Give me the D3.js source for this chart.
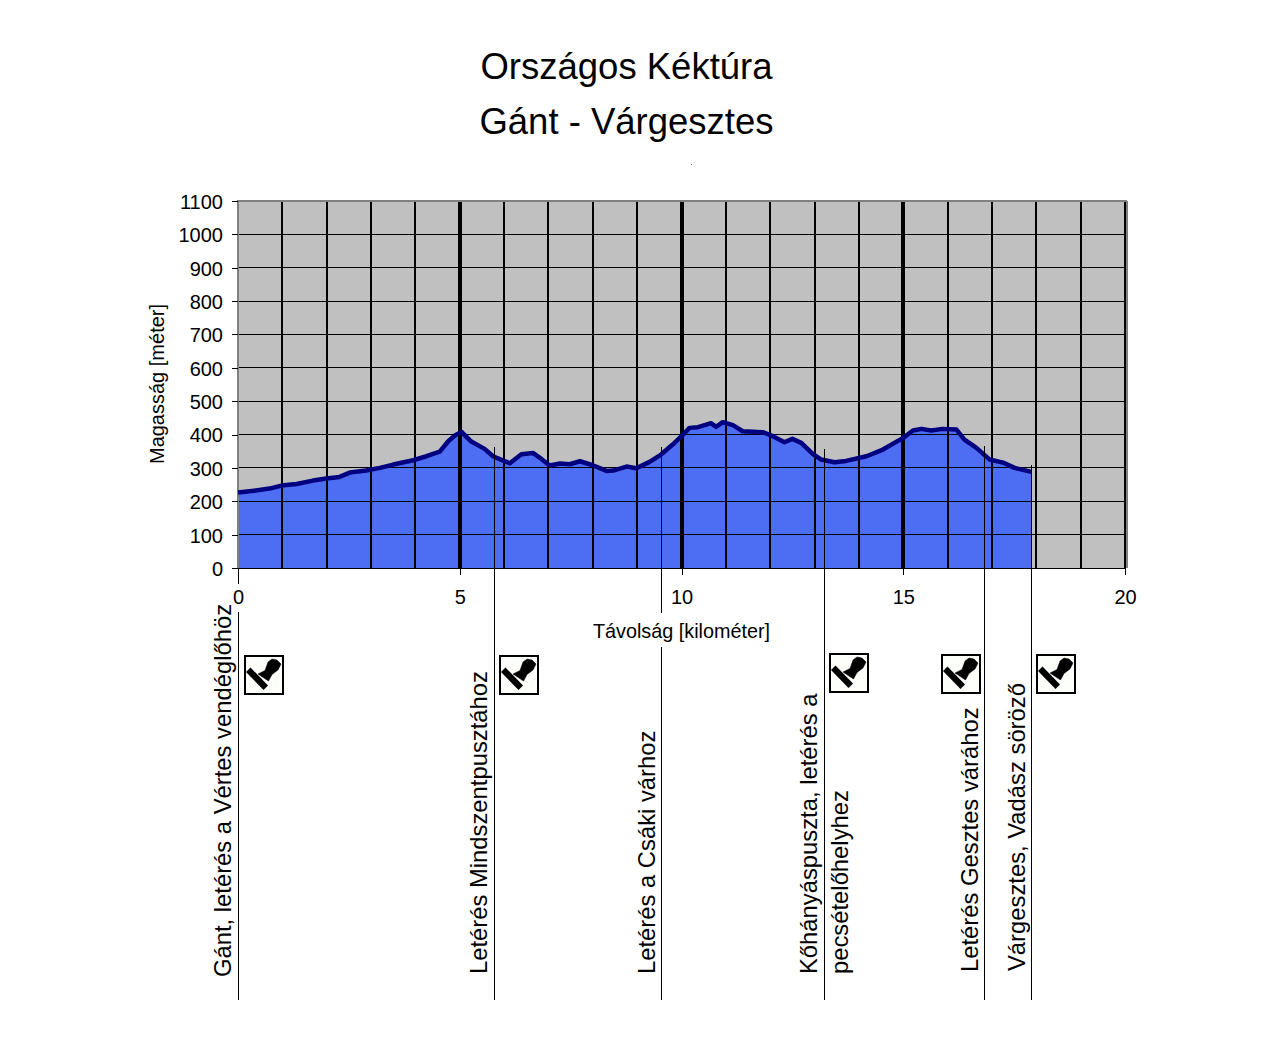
<!DOCTYPE html>
<html>
<head>
<meta charset="utf-8">
<script src="https://cdnjs.cloudflare.com/ajax/libs/d3/7.8.5/d3.min.js"></script>
<style>
  html, body { margin: 0; padding: 0; background: #fff; }
  svg { display: block; }
  text { font-family: "Liberation Sans", Arial, sans-serif; fill: #000; }
</style>
</head>
<body>
<div id="chart"></div>
<script>
const titleLines = ['Országos Kéktúra', 'Gánt - Várgesztes']
const xLabel = 'Távolság [kilométer]'
const yLabel = 'Magasság [méter]'

const xTicks = [0, 5, 10, 15, 20]
const yTicks = [0, 100, 200, 300, 400, 500, 600, 700, 800, 900, 1000, 1100]
const xGrid = d3.range(1, 21)

const distance = [0, 0.26, 0.71, 0.98, 1.32, 1.69, 1.99, 2.29, 2.52, 2.89, 3.2, 3.5, 3.95, 4.25, 4.55, 4.74, 4.89, 5.04,
  5.26, 5.56, 5.75, 5.98, 6.13, 6.39, 6.65, 6.84, 7.03, 7.26, 7.48, 7.71, 8.0, 8.31, 8.46, 8.76, 8.98, 9.28,
  9.54, 9.8, 10, 10.18, 10.37, 10.67, 10.78, 10.93, 11.16, 11.38, 11.83, 12.06, 12.32, 12.5, 12.7, 12.96, 13.15,
  13.45, 13.71, 14.17, 14.54, 15, 15.22, 15.41, 15.63, 15.89, 16.2, 16.38, 16.65, 16.95, 17.25, 17.51, 17.89]
const elevation = [226, 230, 238, 247, 252, 262, 268, 273, 286, 292, 300, 310, 323, 335, 349, 380, 397, 408,
  379, 357, 335, 322, 314, 341, 345, 327, 307, 313, 311, 320, 308, 291, 292, 304, 299, 318,
  340, 370, 395, 420, 422, 434, 423, 437, 428, 410, 407, 395, 377, 387, 375, 342, 325,
  317, 321, 335, 355, 390, 412, 417, 412, 417, 415, 385, 360, 325, 316, 300, 288]

const stationKm = [0, 5.78, 9.54, 13.22, 16.83, 17.89]
const stationTop = [0, 363, 363, 357, 366, 309]
const stationNames = [
  ['Gánt, letérés a Vértes vendéglőhöz'],
  ['Letérés Mindszentpusztához'],
  ['Letérés a Csáki várhoz'],
  ['Kőhányáspuszta, letérés a', 'pecsételőhelyhez'],
  ['Letérés Gesztes várához'],
  ['Várgesztes, Vadász söröző'],
]
const stationHasStamp = [true, true, false, true, true, true]

// layout
const width = 1280, height = 1050
const plot = { left: 238, right: 1125, top: 201, bottom: 568 }
const lineBottom = 1000
const labelBaseDx = [-7, -7, -6, -7, -6, -6]
const labelStart = [977, 974, 974, 974, 972, 971]
const stampDx = [6, 5, null, 5, -43, 5]
const stampY = [655, 655, null, 653, 654, 654]
const labelSize = 23.8

const svg = d3.select('#chart').append('svg').attr('width', width).attr('height', height)

const x = d3.scaleLinear().domain([0, 20]).range([plot.left, plot.right])
const y = d3.scaleLinear().domain([0, 1100]).range([plot.bottom, plot.top])

const profile = distance.map((d, i) => ({ km: d, m: elevation[i] }))

svg.selectAll('text.title').data(titleLines).join('text')
  .attr('class', 'title')
  .attr('x', 626.5)
  .attr('y', (d, i) => 78.5 + i * 55)
  .attr('text-anchor', 'middle')
  .attr('font-size', 36.5)
  .text(d => d)

svg.append('rect').attr('x', 691).attr('y', 164).attr('width', 1).attr('height', 1).attr('fill', '#4d6df3')

// plot background
svg.append('rect')
  .attr('x', plot.left).attr('y', plot.top)
  .attr('width', plot.right - plot.left).attr('height', plot.bottom - plot.top)
  .attr('fill', '#c0c0c0')

const area = d3.area().x(d => x(d.km)).y0(y(0)).y1(d => y(d.m))
svg.append('path').datum(profile).attr('d', area).attr('fill', '#4d6df3')

// gridlines sit over the fill
svg.append('g').attr('shape-rendering', 'crispEdges')
  .selectAll('line').data(yTicks.slice(1, -1)).join('line')
  .attr('x1', plot.left).attr('x2', plot.right)
  .attr('y1', d => y(d)).attr('y2', d => y(d))
  .attr('stroke', '#000').attr('stroke-width', 1)

svg.append('g').attr('shape-rendering', 'crispEdges')
  .selectAll('line').data(xGrid).join('line')
  .attr('x1', d => x(d)).attr('x2', d => x(d))
  .attr('y1', plot.top).attr('y2', plot.bottom)
  .attr('stroke', '#000')
  .attr('stroke-width', d => d % 5 === 0 && d < 20 ? 4 : 2)

// plot frame
svg.append('path')
  .attr('d', `M${plot.left},${plot.bottom}V${plot.top}H${plot.right + 2}M${plot.right + 2},${plot.top}V${plot.bottom}`)
  .attr('fill', 'none').attr('stroke', '#808080').attr('stroke-width', 2)
  .attr('shape-rendering', 'crispEdges')

const line = d3.line().x(d => x(d.km)).y(d => y(d.m))
svg.append('path').datum(profile).attr('d', line)
  .attr('fill', 'none').attr('stroke', '#000080').attr('stroke-width', 4.5)
  .attr('stroke-linejoin', 'round')

// axes
const xAxis = svg.append('g').attr('transform', `translate(0,${plot.bottom})`)
  .call(d3.axisBottom(x).tickValues(xTicks).tickFormat(String).tickSize(7).tickPadding(15).tickSizeOuter(0))
const yAxis = svg.append('g').attr('transform', `translate(${plot.left},0)`)
  .call(d3.axisLeft(y).tickValues(yTicks).tickFormat(String).tickSize(6).tickPadding(9).tickSizeOuter(0))
for (const axis of [xAxis, yAxis]) {
  axis.select('.domain').attr('stroke', '#000').attr('shape-rendering', 'crispEdges')
  axis.selectAll('.tick line').attr('stroke', '#000').attr('shape-rendering', 'crispEdges')
  axis.selectAll('text').attr('font-size', 20).attr('font-family', '"Liberation Sans", Arial, sans-serif').attr('fill', '#000')
}
yAxis.select('.domain').remove()
yAxis.selectAll('text').attr('dy', '0.37em')

// station lines
svg.append('g').attr('shape-rendering', 'crispEdges')
  .selectAll('line').data(stationKm).join('line')
  .attr('x1', d => x(d)).attr('x2', d => x(d))
  .attr('y1', (d, i) => y(stationTop[i])).attr('y2', lineBottom)
  .attr('stroke', '#000').attr('stroke-width', 1)

// tick label and axis title knock out the lines behind them
svg.append('rect').attr('x', 232).attr('y', 584).attr('width', 12).attr('height', 28).attr('fill', '#fff')
svg.append('rect').attr('x', 590).attr('y', 613).attr('width', 183).attr('height', 34).attr('fill', '#fff')
xAxis.raise()

svg.append('text')
  .attr('x', 681.5).attr('y', 637.5)
  .attr('text-anchor', 'middle').attr('font-size', 19.8)
  .text(xLabel)

svg.append('text')
  .attr('transform', `translate(164,384) rotate(-90)`)
  .attr('text-anchor', 'middle').attr('font-size', 20)
  .text(yLabel)

// station names, rotated
stationKm.forEach((km, i) => {
  stationNames[i].forEach((name, j) => {
    svg.append('text')
      .attr('transform', `translate(${x(km) + labelBaseDx[i] + j * 31},${labelStart[i]}) rotate(-90)`)
      .attr('font-size', labelSize)
      .text(name)
  })
})

// stamp icons
function drawStamp(g) {
  g.append('rect').attr('x', 1).attr('y', 1).attr('width', 38).attr('height', 38)
    .attr('fill', '#fcfffa').attr('stroke', '#000').attr('stroke-width', 2)
  g.append('path').attr('d', 'M2,17 L6.5,12.5 L24,30.5 L19.5,35 Z').attr('fill', '#000')
  g.append('path')
    .attr('d', 'M14,19 L21,15.5 L24,7 L28,4 L33,5 L37,9 L34,15 L28,19.5 L24.5,26 Z')
    .attr('fill', '#000').attr('stroke', '#000').attr('stroke-width', 0.5).attr('stroke-linejoin', 'round')
}
stationKm.forEach((km, i) => {
  if (!stationHasStamp[i]) return
  svg.append('g')
    .attr('transform', `translate(${Math.round(x(km)) + stampDx[i]},${stampY[i]})`)
    .call(drawStamp)
})
</script>
</body>
</html>
